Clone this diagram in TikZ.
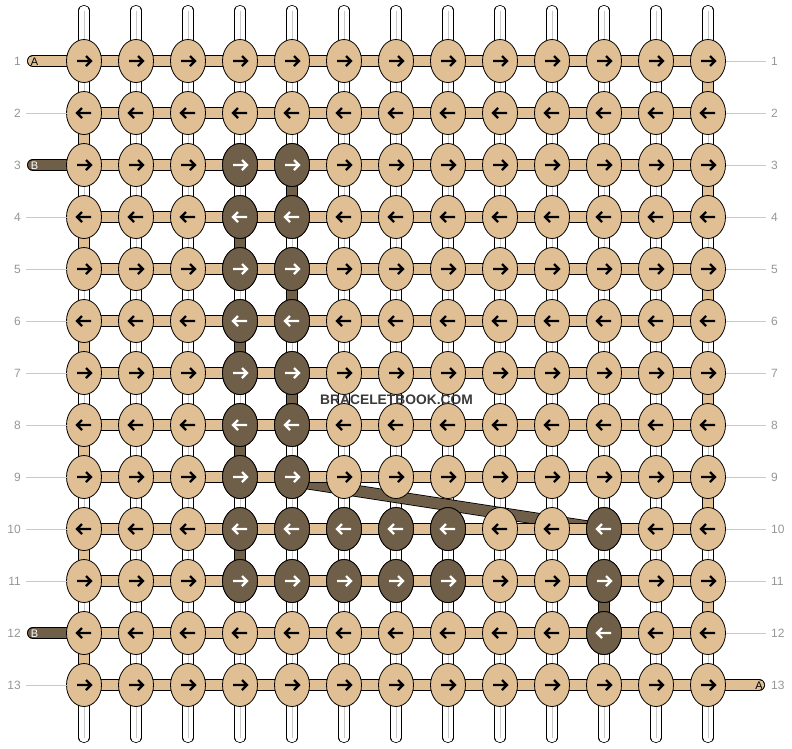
\documentclass[tikz,border=0pt]{standalone}
\usepackage{fontspec}
\setmainfont{Liberation Sans}
\usepackage{xcolor}
\usepackage{tikz}
\usetikzlibrary{positioning}
\usetikzlibrary{shapes.geometric}

\definecolor{threadTan}{RGB}{224,191,148}
\definecolor{threadBrown}{RGB}{111,94,72}
\definecolor{rowGray}{RGB}{150,150,150}
\definecolor{guideGray}{RGB}{200,200,200}
\definecolor{markGray}{RGB}{58,58,58}

\pgfdeclarelayer{behind}
\pgfsetlayers{behind,main}

% arrow on a knot: node, direction (1 or -1), colour
\newcommand{\knotArrow}[3]{\draw[tip, #3] (#1.center) ++({-7*#2},0) -- ++({14*#2},0) ++({-5*#2},-5) -- ++({5*#2},5) -- ++({-5*#2},5);}

\begin{document}
\begin{tikzpicture}[x=1pt, y=-1pt,
        knot/.style = { ellipse, draw = black, line width = 0.8pt, fill = threadTan, minimum width = 35pt, minimum height = 43pt, inner sep = 0pt, outer sep = 0pt },
        darkKnot/.style = { knot, fill = threadBrown },
        warp/.style = { line width = 0.8pt, draw = black, double = white, double distance = 9.5pt, line cap = round },
        warpMid/.style = { line width = 0.7pt, draw = guideGray },
        tanBar/.style = { line width = 0.8pt, draw = black, double = threadTan, double distance = 10.5pt },
        brownBar/.style = { tanBar, double = threadBrown },
        tip/.style = { line width = 2.2pt },
        rowNum/.style = { font = \fontsize{12}{12}\selectfont, text = rowGray, inner sep = 0pt },
        guide/.style = { draw = guideGray, line width = 0.8pt },
        leadLetter/.style = { font = \fontsize{11}{11}\selectfont, inner sep = 0pt },
        ]
    \useasboundingbox (0,0) rectangle (792,748);

    % knots
    \foreach \r in {1,...,13} {
        \pgfmathtruncatemacro\dir{1-2*mod(\r+1,2)}
        \foreach \c in {1,...,13} {
            \node[knot] (k-\r-\c) at (32+52*\c, 9+52*\r) {};
            \knotArrow{k-\r-\c}{\dir}{black}
        }
    }
    \foreach \r/\cols in {3/{4,5},4/{4,5},5/{4,5},6/{4,5},7/{4,5},8/{4,5},9/{4,5},10/{4,5,6,7,8,11},11/{4,5,6,7,8,11},12/{11}} {
        \pgfmathtruncatemacro\dir{1-2*mod(\r+1,2)}
        \foreach \c in \cols {
            \node[darkKnot] (k-\r-\c) at (32+52*\c, 9+52*\r) {};
            \knotArrow{k-\r-\c}{\dir}{white}
        }
    }

    % row numbers
    \foreach \r in {1,...,13} {
        \node[rowNum, anchor = east] (numL-\r) at (21, 9+52*\r) {\r};
        \node[rowNum, anchor = west] (numR-\r) at (771, 9+52*\r) {\r};
    }
    \foreach \r in {2,4,5,6,7,8,9,10,11,13}
        \draw[guide] ([xshift=5pt]numL-\r.east) -- (k-\r-1);
    \foreach \r in {1,...,12}
        \draw[guide] (k-\r-13) -- ([xshift=-5pt]numR-\r.west);

    \begin{pgfonlayer}{behind}
        % white strands
        \foreach \c in {1,...,13} {
            \coordinate (top-\c) at (32+52*\c, 10.5);
            \coordinate (bot-\c) at (32+52*\c, 737.5);
            \draw[warp] (top-\c) -- (bot-\c);
            \draw[warpMid] (top-\c) -- (bot-\c);
        }
        % turns at the edges
        \foreach \r [evaluate=\r as \rn using int(\r+1)] in {2,4,...,12}
            \draw[tanBar] (k-\r-1.center) -- (k-\rn-1.center);
        \foreach \r [evaluate=\r as \rn using int(\r+1)] in {1,3,...,11}
            \draw[tanBar] (k-\r-13.center) -- (k-\rn-13.center);
        \foreach \r/\c [evaluate=\r as \rn using int(\r+1)] in {3/5,4/4,5/5,6/4,7/5,8/4,10/4,11/11}
            \draw[brownBar] (k-\r-\c.center) -- (k-\rn-\c.center);
        \draw[brownBar] ([yshift=-4pt]k-9-5.center) -- (k-10-11.center);
        % rows
        \foreach \r in {1,...,13} {
            \foreach \c in {1,...,12} {
                \pgfmathtruncatemacro\nextc{\c+1}
                \draw[tanBar] (k-\r-\c.center) -- (k-\r-\nextc.center);
            }
        }
        % loose ends
        \coordinate (endA1) at (33,61);
        \coordinate (endB3) at (33,165);
        \coordinate (endB12) at (33,633);
        \coordinate (endA13) at (759,685);
        \draw[tanBar, line cap = round] (endA1) -- (k-1-1.center);
        \draw[brownBar, line cap = round] (endB3) -- (k-3-1.center);
        \draw[brownBar, line cap = round] (endB12) -- (k-12-1.center);
        \draw[tanBar, line cap = round] (endA13) -- (k-13-13.center);
    \end{pgfonlayer}

    \node[leadLetter] (tagA1) at (34.5,62) {A};
    \node[leadLetter, text = white] (tagB3) at (34.5,166) {B};
    \node[leadLetter, text = white] (tagB12) at (34.5,634) {B};
    \node[leadLetter] (tagA13) at (759,686) {A};

    \node[font = \bfseries\fontsize{13.8}{14}\selectfont, text = markGray, inner sep = 0pt] (site) at (396.5,400) {BRACELETBOOK.COM};
\end{tikzpicture}
\end{document}
